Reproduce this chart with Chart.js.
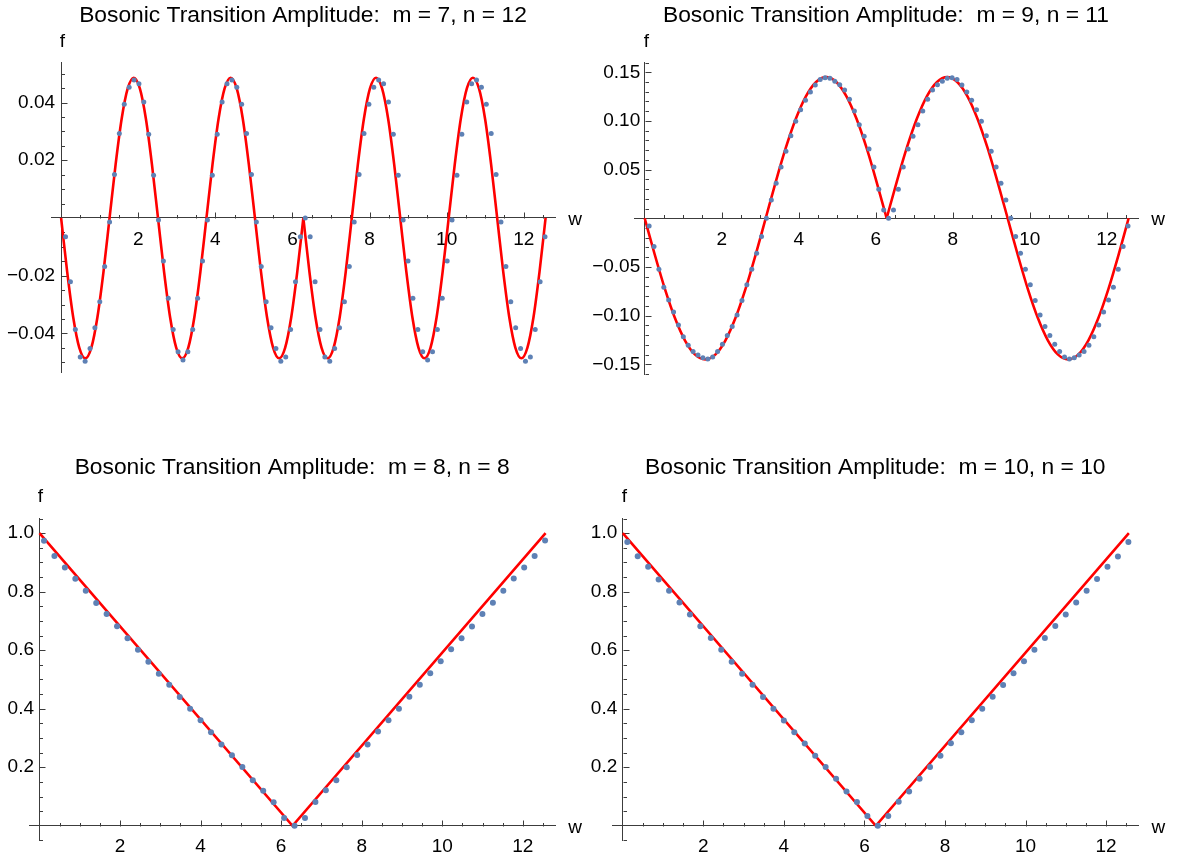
<!DOCTYPE html>
<html>
<head>
<meta charset="utf-8">
<script src="https://cdn.jsdelivr.net/npm/chart.js@4.4.1/dist/chart.umd.min.js"></script>
<style>
html, body { margin: 0; padding: 0; background: #ffffff; }
#wrap { position: relative; width: 1181px; height: 859px; overflow: hidden; background: #ffffff; }
#wrap canvas { position: absolute; }
</style>
</head>
<body>
<div id="wrap">
  <canvas id="c1" width="590" height="440" style="left:0px;top:0px;width:590px;height:440px"></canvas>
  <canvas id="c2" width="591" height="440" style="left:590px;top:0px;width:591px;height:440px"></canvas>
  <canvas id="c3" width="590" height="407" style="left:0px;top:452px;width:590px;height:407px"></canvas>
  <canvas id="c4" width="591" height="407" style="left:590px;top:452px;width:591px;height:407px"></canvas>
</div>
<script>
// ---------------- data ----------------
const titles = [
  'Bosonic Transition Amplitude:  m = 7, n = 12',
  'Bosonic Transition Amplitude:  m = 9, n = 11',
  'Bosonic Transition Amplitude:  m = 8, n = 8',
  'Bosonic Transition Amplitude:  m = 10, n = 10'
];

const xTickValues = [2, 4, 6, 8, 10, 12];
const xTickLabels = ['2', '4', '6', '8', '10', '12'];

const yTicks1 = [-0.04, -0.02, 0.02, 0.04];
const yLabels1 = ['\u22120.04', '\u22120.02', '0.02', '0.04'];
const yTicks2 = [-0.15, -0.10, -0.05, 0.05, 0.10, 0.15];
const yLabels2 = ['\u22120.15', '\u22120.10', '\u22120.05', '0.05', '0.10', '0.15'];
const yTicks34 = [0.2, 0.4, 0.6, 0.8, 1.0];
const yLabels34 = ['0.2', '0.4', '0.6', '0.8', '1.0'];

// sample positions (w) of the discrete points
const dotW99 = [0.115, 0.242, 0.369, 0.496, 0.623, 0.750, 0.876, 1.003, 1.130, 1.257,
  1.384, 1.511, 1.638, 1.765, 1.892, 2.019, 2.145, 2.272, 2.399, 2.526,
  2.653, 2.780, 2.907, 3.034, 3.161, 3.288, 3.414, 3.541, 3.668, 3.795,
  3.922, 4.049, 4.176, 4.303, 4.430, 4.557, 4.683, 4.810, 4.937, 5.064,
  5.191, 5.318, 5.445, 5.572, 5.699, 5.826, 5.952, 6.079, 6.206, 6.333,
  6.460, 6.587, 6.714, 6.841, 6.968, 7.095, 7.221, 7.348, 7.475, 7.602,
  7.729, 7.856, 7.983, 8.110, 8.237, 8.364, 8.490, 8.617, 8.744, 8.871,
  8.998, 9.125, 9.252, 9.379, 9.506, 9.633, 9.759, 9.886, 10.013, 10.140,
  10.267, 10.394, 10.521, 10.648, 10.775, 10.902, 11.028, 11.155, 11.282, 11.409,
  11.536, 11.663, 11.790, 11.917, 12.044, 12.171, 12.297, 12.424, 12.551];

const dotW49 = [0.112, 0.371, 0.630, 0.890, 1.149, 1.408, 1.667, 1.926, 2.186, 2.445,
  2.704, 2.963, 3.222, 3.482, 3.741, 4.000, 4.259, 4.518, 4.778, 5.037,
  5.296, 5.555, 5.814, 6.074, 6.333, 6.592, 6.851, 7.110, 7.370, 7.629,
  7.888, 8.147, 8.406, 8.666, 8.925, 9.184, 9.443, 9.702, 9.962, 10.221,
  10.480, 10.739, 10.998, 11.258, 11.517, 11.776, 12.035, 12.294, 12.554];

// m = 7, n = 12 : discrete points
const dots1 = [-0.0065, -0.0221, -0.0386, -0.0482, -0.0496, -0.0452, -0.0380, -0.0290, -0.0168, -0.0014,
  0.0151, 0.0293, 0.0394, 0.0453, 0.0478, 0.0465, 0.0402, 0.0290, 0.0148, -0.0007,
  -0.0149, -0.0278, -0.0386, -0.0463, -0.0492, -0.0463, -0.0386, -0.0278, -0.0149, -0.0007,
  0.0148, 0.0290, 0.0402, 0.0465, 0.0478, 0.0453, 0.0394, 0.0293, 0.0151, -0.0014,
  -0.0168, -0.0290, -0.0380, -0.0452, -0.0496, -0.0482, -0.0386, -0.0221, -0.0065, 0.0000,
  -0.0065, -0.0221, -0.0386, -0.0482, -0.0496, -0.0452, -0.0380, -0.0290, -0.0168, -0.0014,
  0.0151, 0.0293, 0.0394, 0.0453, 0.0478, 0.0465, 0.0402, 0.0290, 0.0148, -0.0007,
  -0.0149, -0.0278, -0.0386, -0.0463, -0.0492, -0.0463, -0.0386, -0.0278, -0.0149, -0.0007,
  0.0148, 0.0290, 0.0402, 0.0465, 0.0478, 0.0453, 0.0394, 0.0293, 0.0151, -0.0014,
  -0.0168, -0.0290, -0.0380, -0.0452, -0.0496, -0.0482, -0.0386, -0.0221, -0.0065];

// m = 9, n = 11 : discrete points
const dots2 = [-0.0079, -0.0291, -0.0524, -0.0709, -0.0839, -0.0962, -0.1096, -0.1216, -0.1305, -0.1370,
  -0.1404, -0.1432, -0.1445, -0.1425, -0.1370, -0.1295, -0.1205, -0.1113, -0.0993, -0.0846,
  -0.0682, -0.0524, -0.0360, -0.0188, 0.0000, 0.0188, 0.0360, 0.0527, 0.0688, 0.0849,
  0.0997, 0.1116, 0.1212, 0.1298, 0.1370, 0.1425, 0.1445, 0.1438, 0.1408, 0.1373,
  0.1318, 0.1223, 0.1103, 0.0962, 0.0842, 0.0712, 0.0527, 0.0298, 0.0086, 0.0000,
  0.0086, 0.0298, 0.0527, 0.0712, 0.0842, 0.0962, 0.1103, 0.1223, 0.1318, 0.1373,
  0.1408, 0.1438, 0.1445, 0.1425, 0.1370, 0.1298, 0.1212, 0.1116, 0.0997, 0.0849,
  0.0688, 0.0527, 0.0360, 0.0188, 0.0000, -0.0188, -0.0360, -0.0524, -0.0682, -0.0846,
  -0.0993, -0.1113, -0.1205, -0.1295, -0.1370, -0.1425, -0.1445, -0.1432, -0.1404, -0.1370,
  -0.1305, -0.1216, -0.1096, -0.0962, -0.0839, -0.0709, -0.0524, -0.0291, -0.0079];

// m = 8, n = 8 : discrete points
const dots3 = [0.974, 0.922, 0.883, 0.844, 0.803, 0.761, 0.724, 0.682, 0.641, 0.602,
  0.561, 0.520, 0.482, 0.440, 0.400, 0.361, 0.320, 0.278, 0.241, 0.201,
  0.156, 0.120, 0.080, 0.027, 0.000, 0.027, 0.081, 0.121, 0.156, 0.200,
  0.242, 0.278, 0.322, 0.361, 0.400, 0.441, 0.482, 0.521, 0.562, 0.603,
  0.641, 0.681, 0.724, 0.762, 0.803, 0.845, 0.883, 0.922, 0.975];

// m = 10, n = 10 : discrete points
const dots4 = [0.970, 0.921, 0.885, 0.842, 0.803, 0.763, 0.722, 0.682, 0.642, 0.602,
  0.561, 0.520, 0.482, 0.440, 0.400, 0.360, 0.320, 0.281, 0.239, 0.201,
  0.161, 0.117, 0.081, 0.033, 0.000, 0.033, 0.082, 0.117, 0.161, 0.201,
  0.239, 0.282, 0.320, 0.361, 0.400, 0.441, 0.481, 0.521, 0.562, 0.602,
  0.642, 0.683, 0.722, 0.763, 0.803, 0.843, 0.885, 0.920, 0.970];

// red continuous curves
const curve1W = [0, 0.157, 0.314, 0.471, 0.628, 0.785, 0.942, 1.100, 1.257, 1.414,
  1.571, 1.728, 1.885, 2.042, 2.199, 2.356, 2.513, 2.670, 2.827, 2.985,
  3.142, 3.299, 3.456, 3.613, 3.770, 3.927, 4.084, 4.241, 4.398, 4.555,
  4.712, 4.869, 5.027, 5.184, 5.341, 5.498, 5.655, 5.812, 5.969, 6.126,
  6.283, 6.440, 6.597, 6.754, 6.912, 7.069, 7.226, 7.383, 7.540, 7.697,
  7.854, 8.011, 8.168, 8.325, 8.482, 8.639, 8.796, 8.954, 9.111, 9.268,
  9.425, 9.582, 9.739, 9.896, 10.053, 10.210, 10.367, 10.524, 10.681, 10.838,
  10.996, 11.153, 11.310, 11.467, 11.624, 11.781, 11.938, 12.095, 12.252, 12.409, 12.566];
const curve1F = [0, -0.0186, -0.0344, -0.0449, -0.0486, -0.0449, -0.0344, -0.0186, 0, 0.0186,
  0.0344, 0.0449, 0.0486, 0.0449, 0.0344, 0.0186, 0, -0.0186, -0.0344, -0.0449,
  -0.0486, -0.0449, -0.0344, -0.0186, 0, 0.0186, 0.0344, 0.0449, 0.0486, 0.0449,
  0.0344, 0.0186, 0, -0.0186, -0.0344, -0.0449, -0.0486, -0.0449, -0.0344, -0.0186,
  0, -0.0186, -0.0344, -0.0449, -0.0486, -0.0449, -0.0344, -0.0186, 0, 0.0186,
  0.0344, 0.0449, 0.0486, 0.0449, 0.0344, 0.0186, 0, -0.0186, -0.0344, -0.0449,
  -0.0486, -0.0449, -0.0344, -0.0186, 0, 0.0186, 0.0344, 0.0449, 0.0486, 0.0449,
  0.0344, 0.0186, 0, -0.0186, -0.0344, -0.0449, -0.0486, -0.0449, -0.0344, -0.0186, 0];

const curve2W = [0, 0.262, 0.524, 0.785, 1.047, 1.309, 1.571, 1.833, 2.094, 2.356,
  2.618, 2.880, 3.142, 3.403, 3.665, 3.927, 4.189, 4.451, 4.712, 4.974,
  5.236, 5.498, 5.760, 6.021, 6.283, 6.545, 6.807, 7.069, 7.330, 7.592,
  7.854, 8.116, 8.378, 8.639, 8.901, 9.163, 9.425, 9.687, 9.948, 10.210,
  10.472, 10.734, 10.996, 11.257, 11.519, 11.781, 12.043, 12.305, 12.566];
const curve2F = [0, -0.0375, -0.0725, -0.1025, -0.1256, -0.1401, -0.1450, -0.1401, -0.1256, -0.1025,
  -0.0725, -0.0375, 0, 0.0375, 0.0725, 0.1025, 0.1256, 0.1401, 0.1450, 0.1401,
  0.1256, 0.1025, 0.0725, 0.0375, 0, 0.0375, 0.0725, 0.1025, 0.1256, 0.1401,
  0.1450, 0.1401, 0.1256, 0.1025, 0.0725, 0.0375, 0, -0.0375, -0.0725, -0.1025,
  -0.1256, -0.1401, -0.1450, -0.1401, -0.1256, -0.1025, -0.0725, -0.0375, 0];

const curve3W = [0, 6.283, 12.566];
const curve3F = [1.0, 0.0, 1.0];
const curve4W = [0, 6.283, 12.566];
const curve4F = [1.0, 0.0, 1.0];

// ---------------- styling ----------------
const RED = '#ff0000';
const BLUE = '#5e81b5';
const AXIS = '#3c3c3c';
const FONT_FAMILY = '"Liberation Sans", Arial, Helvetica, sans-serif';

function pts(ws, fs, from, to) {
  const out = [];
  for (let i = from; i <= to; i++) out.push({ x: ws[i], y: fs[i] });
  return out;
}
function lookup(vals, labels, v) {
  for (let i = 0; i < vals.length; i++) if (Math.abs(vals[i] - v) < 1e-9) return labels[i];
  return '';
}

const mathAxes = {
  id: 'mathAxes',
  beforeDraw(chart, args, o) {
    // keep a small gap between the y tick labels and the axis line
    const ys = chart.scales.y;
    const items = ys.getLabelItems(chart.chartArea);
    items.forEach(it => {
      if (!it._shifted) { it.options.translation[0] -= o.yGap; it._shifted = true; }
    });
  },
  beforeDatasetsDraw(chart, args, o) {
    const ctx = chart.ctx;
    const xs = chart.scales.x, ys = chart.scales.y;
    const x0 = Math.round(xs.getPixelForValue(0)) + 0.5;
    const y0 = Math.round(ys.getPixelForValue(0)) + 0.5;
    ctx.save();
    ctx.strokeStyle = AXIS;
    ctx.lineWidth = 1;
    ctx.beginPath();
    const xa = Math.ceil(xs.min / o.xStep - 1e-6), xb = Math.floor(xs.max / o.xStep + 1e-6);
    for (let i = xa; i <= xb; i++) {
      if (i === 0) continue;
      const p = Math.round(xs.getPixelForValue(i * o.xStep)) + 0.5;
      const len = (i % o.xEvery === 0) ? 6 : 3.5;
      ctx.moveTo(p, y0); ctx.lineTo(p, y0 - len);
    }
    const ya = Math.ceil(ys.min / o.yStep - 1e-6), yb = Math.floor(ys.max / o.yStep + 1e-6);
    for (let i = ya; i <= yb; i++) {
      if (i === 0) continue;
      const p = Math.round(ys.getPixelForValue(i * o.yStep)) + 0.5;
      const len = (i % o.yEvery === 0) ? 6 : 3.5;
      ctx.moveTo(x0, p); ctx.lineTo(x0 + len, p);
    }
    ctx.stroke();
    // axis names
    ctx.fillStyle = '#000';
    ctx.font = '19px ' + FONT_FAMILY;
    ctx.textAlign = 'center';
    ctx.textBaseline = 'middle';
    ctx.fillText('f', x0 + 1, chart.chartArea.top - 21);
    ctx.fillText('w', chart.chartArea.right + 20, y0 + 1);
    ctx.restore();
  }
};

function makePanel(id, c) {
  const datasets = [{
    label: 'points',
    data: pts(c.dotW, c.dots, 0, c.dots.length - 1),
    showLine: false,
    pointRadius: c.r,
    pointHoverRadius: c.r,
    pointBackgroundColor: BLUE,
    pointBorderWidth: 0,
    order: 0
  }];
  c.segments.forEach(seg => {
    datasets.push({
      label: 'curve',
      data: pts(c.curveW, c.curveF, seg[0], seg[1]),
      showLine: true,
      borderColor: RED,
      borderWidth: 2.6,
      pointRadius: 0,
      pointHoverRadius: 0,
      fill: false,
      tension: 0,
      cubicInterpolationMode: c.smooth ? 'monotone' : 'default',
      order: 1
    });
  });
  return new Chart(document.getElementById(id), {
    type: 'scatter',
    data: { datasets },
    options: {
      responsive: false,
      animation: false,
      devicePixelRatio: 1,
      events: [],
      layout: { padding: c.pad },
      plugins: {
        legend: { display: false },
        tooltip: { enabled: false },
        title: {
          display: true,
          text: c.title,
          color: '#000',
          font: { family: FONT_FAMILY, size: 22.8, weight: 'normal', lineHeight: 1.2 },
          padding: { top: 2.5, bottom: c.titleGap }
        },
        mathAxes: c.axes
      },
      scales: {
        x: {
          type: 'linear',
          min: c.xMin, max: c.xMax,
          position: { y: 0 },
          border: { display: true, color: AXIS, width: 1 },
          grid: { display: true, drawOnChartArea: false, drawTicks: false },
          ticks: {
            autoSkip: false, maxRotation: 0, padding: 10, color: '#000',
            font: { family: FONT_FAMILY, size: 19 },
            callback: v => lookup(xTickValues, xTickLabels, v)
          },
          afterBuildTicks: s => { s.ticks = xTickValues.map(v => ({ value: v })); }
        },
        y: {
          type: 'linear',
          min: c.yMin, max: c.yMax,
          position: { x: 0 },
          border: { display: true, color: AXIS, width: 1 },
          grid: { display: true, drawOnChartArea: false, drawTicks: false },
          ticks: {
            autoSkip: false, padding: 5, color: '#000',
            font: { family: FONT_FAMILY, size: 19 },
            callback: v => lookup(c.yTicks, c.yLabels, v)
          },
          afterBuildTicks: s => { s.ticks = c.yTicks.map(v => ({ value: v })); }
        }
      }
    },
    plugins: [mathAxes]
  });
}

// title box height = 22.8*1.2 + 2.5 + gap = chart-area top
makePanel('c1', {
  title: titles[0], dotW: dotW99, dots: dots1, r: 2.5,
  curveW: curve1W, curveF: curve1F, segments: [[0, 40], [40, 80]], smooth: true,
  xMin: -0.262, xMax: 12.81, yMin: -0.0537, yMax: 0.0537,
  yTicks: yTicks1, yLabels: yLabels1,
  pad: { left: 51, right: 35, top: 0, bottom: 67 }, titleGap: 33.1,
  axes: { xStep: 0.5, xEvery: 4, yStep: 0.005, yEvery: 4, yGap: 6 }
});
makePanel('c2', {
  title: titles[1], dotW: dotW99, dots: dots2, r: 2.5,
  curveW: curve2W, curveF: curve2F, segments: [[0, 24], [24, 48]], smooth: true,
  xMin: -0.278, xMax: 12.81, yMin: -0.16, yMax: 0.16,
  yTicks: yTicks2, yLabels: yLabels2,
  pad: { left: 44, right: 43, top: 0, bottom: 66 }, titleGap: 32.7,
  axes: { xStep: 0.5, xEvery: 4, yStep: 0.01, yEvery: 5, yGap: 4.5 }
});
makePanel('c3', {
  title: titles[2], dotW: dotW49, dots: dots3, r: 3.0,
  curveW: curve3W, curveF: curve3F, segments: [[0, 2]], smooth: false,
  xMin: -0.253, xMax: 12.80, yMin: -0.051, yMax: 1.051,
  yTicks: yTicks34, yLabels: yLabels34,
  pad: { left: 29.3, right: 35, top: 0, bottom: 18.3 }, titleGap: 36.4,
  axes: { xStep: 0.5, xEvery: 4, yStep: 0.05, yEvery: 4, yGap: 5.5 }
});
makePanel('c4', {
  title: titles[3], dotW: dotW49, dots: dots4, r: 3.0,
  curveW: curve4W, curveF: curve4F, segments: [[0, 2]], smooth: false,
  xMin: -0.26, xMax: 12.80, yMin: -0.051, yMax: 1.051,
  yTicks: yTicks34, yLabels: yLabels34,
  pad: { left: 22.3, right: 42.7, top: 0, bottom: 18.3 }, titleGap: 36.4,
  axes: { xStep: 0.5, xEvery: 4, yStep: 0.05, yEvery: 4, yGap: 5.5 }
});
</script>
</body>
</html>
